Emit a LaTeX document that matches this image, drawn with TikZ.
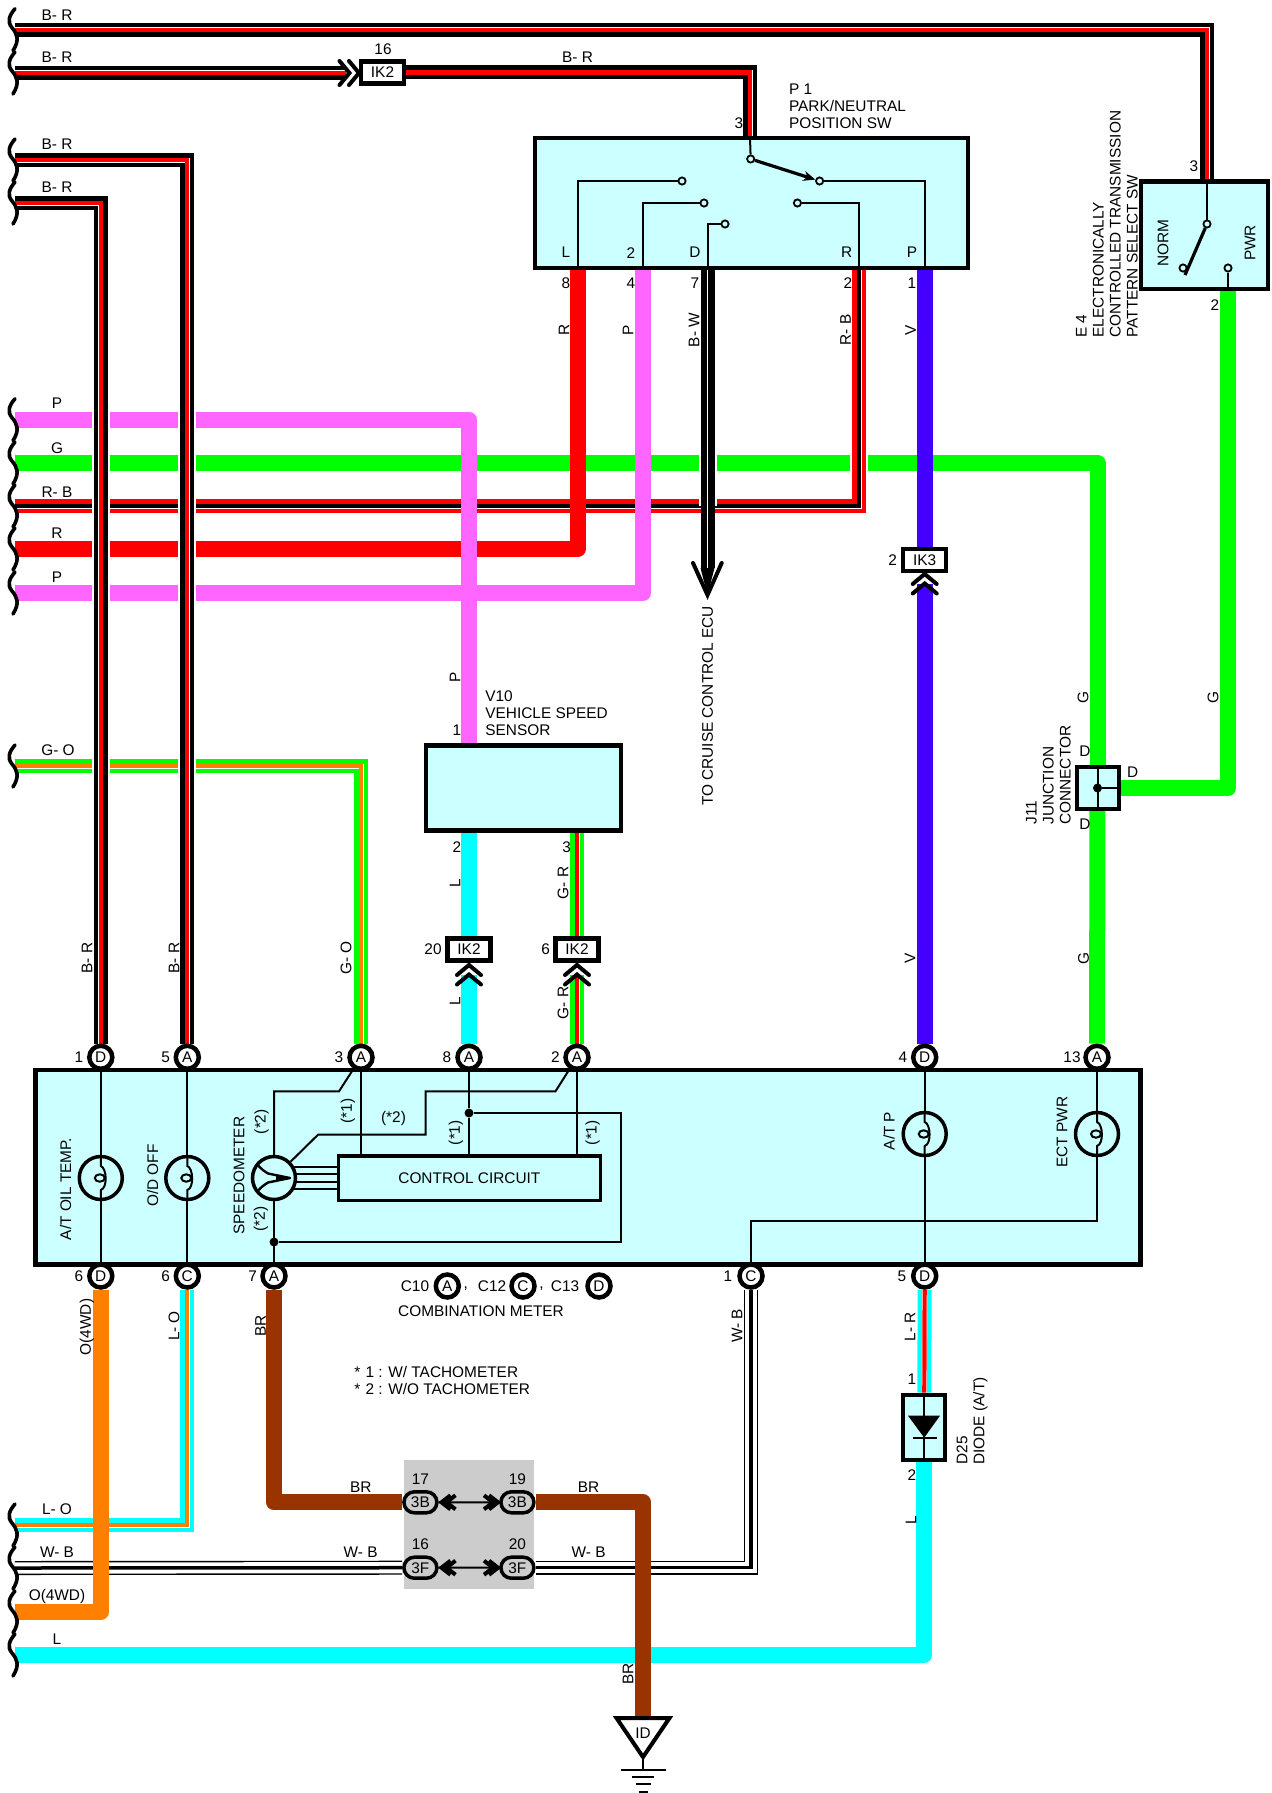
\documentclass[tikz,border=0pt]{standalone}
\usepackage{fontspec}
\setmainfont{Liberation Sans}
\usetikzlibrary{arrows.meta,backgrounds,shapes.misc}
\definecolor{boxcyan}{HTML}{CCFFFF}
\definecolor{wirecyan}{HTML}{00FFFF}
\definecolor{wirepink}{HTML}{FF66FF}
\definecolor{wiregreen}{HTML}{00FF00}
\definecolor{wireviolet}{HTML}{4400FF}
\definecolor{wireorange}{HTML}{FF8000}
\definecolor{wirebrown}{HTML}{993300}
\definecolor{blockgray}{HTML}{CCCCCC}
\tikzset{
    lbl/.style = {font = \fontsize{7.7}{8.5}\selectfont, inner sep = 0pt},
    rlbl/.style = {lbl, rotate = 90},
    solidwire/.style = {draw = #1, line width = 8pt, line join = round},
    stripewire/.style 2 args = {draw = #1, line width = 7pt, line join = miter,
        postaction = {draw = white, line width = 2.5pt},
        postaction = {draw = #2, line width = 2.1pt}},
    halo/.style = {draw = white, line width = 9pt},
    unitbox/.style = {draw, fill = boxcyan, line width = 2.25pt, inner sep = 0pt},
    ikbox/.style = {lbl, draw, fill = white, line width = 2.25pt, minimum width = 21.5pt, minimum height = 11pt},
    pincircle/.style = {lbl, draw, circle, fill = white, line width = 2.25pt, minimum size = 11.5pt},
    ovalpin/.style = {lbl, draw, rounded rectangle, fill = blockgray, line width = 1.75pt, minimum width = 16.5pt, minimum height = 10.5pt},
    lampring/.style = {draw, circle, line width = 1.75pt, minimum size = 21.5pt, inner sep = 0pt},
    contact/.style = {draw, circle, fill = boxcyan, line width = 0.9pt, minimum size = 3.6pt, inner sep = 0pt},
    dotnode/.style = {circle, fill = black, minimum size = 4.5pt, inner sep = 0pt},
    innerline/.style = {line width = 1pt},
    armline/.style = {line width = 1.6pt},
    filament/.pic = {
        \draw[innerline] (0, -21) -- (0, -12) .. controls (6, -10) and (7, 10) .. (0, 12) -- (0, 21);
        \draw[innerline] (-1, 0) ellipse [x radius = 5, y radius = 3.7];
    },
    pointer/.pic = {
        \draw[line width = 1.2pt, line join = round] (-17, -14) .. controls (-13, -9) and (-10, -7) .. (-6, -4.5) -- (16, 0) -- (-6, 4.5) .. controls (-10, 7) and (-13, 9) .. (-17, 14);
        \fill (16, 0) -- (2, -3) -- (2, 3) -- cycle;
    },
    chevron/.pic = {
        \draw[line width = 2pt, line cap = round, line join = miter] (-12, 10) -- (0, 0) -- (12, 10);
        \draw[line width = 2pt, line cap = round, line join = miter] (-12, 19.5) -- (0, 9.5) -- (12, 19.5);
    },
    tightchevron/.pic = {
        \draw[line width = 2pt, line join = miter] (-7, 9) -- (0, 0) -- (7, 9);
        \draw[line width = 2pt, line join = miter] (-7, 14) -- (0, 5) -- (7, 14);
    },
    wave/.pic = {
        \draw[line width = 1.8pt, line cap = round] (15, -21) .. controls (9, -14) and (7, -8) .. (12, -2) .. controls (17, 4) and (20, 10) .. (13, 21);
    }
}
\begin{document}
\begin{tikzpicture}[x = 0.5pt, y = -0.5pt]
    \useasboundingbox (0, 0) rectangle (1271, 1793);

    \foreach \n/\y in {brone/29.7, brtwo/73, brthree/160, brfour/203, pinkone/419.7, gmain/463, rbmain/506, rmain/549, pinktwo/593, gomain/766, lomain/1525, wbmain/1568, omain/1612, lmain/1655} {
        \coordinate (\n) at (15, \y);
    }

    % boxes
    \node[unitbox, minimum width = 216.5pt, minimum height = 65pt] (parksw) at (751.5, 203) {};
    \node[unitbox, minimum width = 63.5pt, minimum height = 53.75pt] (selectsw) at (1204.5, 235) {};
    \node[unitbox, minimum width = 97.5pt, minimum height = 42.5pt] (speedsensor) at (523.5, 788) {};
    \node[unitbox, minimum width = 552.6pt, minimum height = 97.3pt] (meter) at (588, 1167.3) {};
    \node[unitbox, lbl, line width = 1.75pt, minimum width = 131pt, minimum height = 22.3pt] (control) at (469.4, 1178.3) {CONTROL CIRCUIT};
    \node[unitbox, line width = 2pt, minimum width = 21pt, minimum height = 21.2pt] (junction) at (1097.5, 788) {};
    \node[unitbox, line width = 2pt, minimum width = 21.2pt, minimum height = 32.5pt] (diode) at (924.2, 1427) {};
    \node[fill = blockgray, minimum width = 65pt, minimum height = 64.5pt, inner sep = 0pt] (grayblock) at (469, 1524.5) {};

    % connectors
    \node[ikbox] (ikone) at (382.5, 72.5) {IK2};
    \node[ikbox] (iktwo) at (469, 949.5) {IK2};
    \node[ikbox] (ikthree) at (577, 949.5) {IK2};
    \node[ikbox] (ikfour) at (924.7, 560) {IK3};
    \node[pincircle] (pinoned) at (100.8, 1057.3) {D};
    \node[pincircle] (pinfivea) at (187.3, 1057.3) {A};
    \node[pincircle] (pinthreea) at (361, 1057.3) {A};
    \node[pincircle] (pineighta) at (469, 1057.3) {A};
    \node[pincircle] (pintwoa) at (577, 1057.3) {A};
    \node[pincircle] (pinfourd) at (924.7, 1057.3) {D};
    \node[pincircle] (pinthirteena) at (1097, 1057.3) {A};
    \node[pincircle] (pinsixd) at (100.8, 1276) {D};
    \node[pincircle] (pinsixc) at (187.3, 1276) {C};
    \node[pincircle] (pinsevena) at (274, 1276) {A};
    \node[pincircle] (pinonec) at (751, 1276) {C};
    \node[pincircle] (pinfived) at (924.7, 1276) {D};
    \node[pincircle] (keya) at (447.3, 1286) {A};
    \node[pincircle] (keyc) at (523, 1286) {C};
    \node[pincircle] (keyd) at (599, 1286) {D};
    \node[ovalpin] (ovalbl) at (420.4, 1502.3) {3B};
    \node[ovalpin] (ovalbr) at (517.4, 1502.3) {3B};
    \node[ovalpin] (ovalfl) at (420.4, 1567.7) {3F};
    \node[ovalpin] (ovalfr) at (517.4, 1567.7) {3F};

    % wire ends
    \coordinate (parkthree) at (750, 138);
    \coordinate (parkeight) at (577.6, 268);
    \coordinate (parkfour) at (643, 268);
    \coordinate (parkseven) at (707.5, 268);
    \coordinate (parktwo) at (859, 268);
    \coordinate (parkone) at (924.7, 268);
    \coordinate (selectthree) at (1207, 181.5);
    \coordinate (selecttwo) at (1228, 289);
    \coordinate (sensorone) at (469, 747);
    \coordinate (sensortwo) at (469, 830);
    \coordinate (sensorthree) at (577, 830);
    \coordinate (ikoneend) at (346, 73);
    \coordinate (iktwoend) at (469, 975);
    \coordinate (ikthreeend) at (577, 975);
    \coordinate (ikfourend) at (924.7, 584);
    \coordinate (cruisetip) at (707.5, 595);
    \coordinate (cruiseend) at (707.5, 568);
    \coordinate (groundtop) at (643, 1718);

    \begin{scope}[on background layer]
        \draw[solidwire = wiregreen] (gmain) -| (junction);
        \draw[solidwire = wiregreen] (junction) -- (pinthirteena);
        \draw[solidwire = wiregreen] (junction) -| (selecttwo);
        \draw[halo] (rbmain -| parktwo) -- (parktwo);
        \draw[stripewire = {red}{black}] (rbmain) -| (parktwo);
        \draw[solidwire = red] (rmain) -| (parkeight);
        \draw[solidwire = wirepink] (pinktwo) -| (parkfour);
        \draw[solidwire = wirepink] (pinkone) -| (sensorone);
        \draw[halo] (parkseven) -- (rbmain -| parkseven);
        \draw[draw = black, line width = 7pt, postaction = {draw = white, line width = 0.6pt}] (parkseven) -- (cruiseend);
        \fill (cruiseend) ++(-7, 0) -- (cruisetip) -- ++(7, -27) -- cycle;
        \draw[solidwire = wireviolet] (parkone) -- (ikfour);
        \draw[solidwire = wireviolet] (ikfourend) -- (pinfourd);
        \draw[stripewire = {wiregreen}{wireorange}] (gomain) -| (pinthreea);
        \draw[halo] (brfour) -| (pinoned);
        \draw[halo] (brthree) -| (pinfivea);
        \draw[stripewire = {black}{red}] (brone) -| (selectthree);
        \draw[stripewire = {black}{red}] (brtwo) -- (ikoneend);
        \draw[stripewire = {black}{red}] (ikone) -| (parkthree);
        \draw[stripewire = {black}{red}] (brthree) -| (pinfivea);
        \draw[stripewire = {black}{red}] (brfour) -| (pinoned);
        \draw[solidwire = wirecyan] (sensortwo) -- (iktwo);
        \draw[solidwire = wirecyan] (iktwoend) -- (pineighta);
        \draw[stripewire = {wiregreen}{red}] (sensorthree) -- (ikthree);
        \draw[stripewire = {wiregreen}{red}] (ikthreeend) -- (pintwoa);
        \draw[stripewire = {wirecyan}{wireorange}] (lomain) -| (pinsixc);
        \draw[draw = black, line width = 7pt, line join = miter, postaction = {draw = white, line width = 5.6pt}, postaction = {draw = black, line width = 1.75pt}] (wbmain) -- (ovalfl);
        \draw[draw = black, line width = 7pt, line join = miter, postaction = {draw = white, line width = 5.6pt}, postaction = {draw = black, line width = 1.75pt}] (ovalfr) -| (pinonec);
        \draw[solidwire = wirecyan] (lmain) -| (diode);
        \draw[stripewire = {wirecyan}{red}] (pinfived) -- (diode);
        \draw[solidwire = wireorange] (omain) -| (pinsixd);
        \draw[solidwire = wirebrown] (pinsevena) |- (ovalbl);
        \draw[solidwire = wirebrown] (ovalbr) -| (groundtop);
    \end{scope}

    \foreach \y in {29.7, 73, 160, 203, 419.7, 463, 506, 549, 593, 766, 1525, 1568, 1612, 1655} {
        \pic at (0, \y) {wave};
    }
    \pic[rotate = -90] at (359, 73) {chevron};
    \pic at (469, 965) {chevron};
    \pic at (577, 965) {chevron};
    \pic at (924.7, 574) {chevron};
    \draw[innerline] (ovalbl) -- (ovalbr);
    \draw[innerline] (ovalfl) -- (ovalfr);
    \pic[rotate = 90] at (441.5, 1502.3) {tightchevron};
    \pic[rotate = -90] at (498, 1502.3) {tightchevron};
    \pic[rotate = 90] at (441.5, 1567.7) {tightchevron};
    \pic[rotate = -90] at (498, 1567.7) {tightchevron};
    \draw[line width = 2pt, line cap = round, line join = miter] (cruisetip) ++(-14.5, -32) -- (cruisetip) -- ++(14.2, -32);

    % park/neutral switch
    \node[contact] (ringcom) at (750.7, 159) {};
    \node[contact] (ringp) at (819.6, 181) {};
    \node[contact] (ringl) at (682, 181) {};
    \node[contact] (ringtwo) at (704, 203) {};
    \node[contact] (ringd) at (725, 224) {};
    \node[contact] (ringr) at (797.4, 203) {};
    \draw[innerline] (parkthree) -- (ringcom);
    \draw[armline, -{Stealth[length = 6pt, width = 5pt]}] (ringcom) -- (ringp);
    \draw[innerline] (ringp) -| (parkone);
    \draw[innerline] (ringl) -| (parkeight);
    \draw[innerline] (ringtwo) -| (parkfour);
    \draw[innerline] (ringd) -| (parkseven);
    \draw[innerline] (ringr) -| (parktwo);

    % pattern select switch
    \node[contact] (ringnorm) at (1207, 224) {};
    \node[contact] (ringleft) at (1183, 268) {};
    \node[contact] (ringpwr) at (1228, 268) {};
    \coordinate (armend) at (1185, 275);
    \draw[innerline] (selectthree) -- (ringnorm);
    \draw[armline] (ringnorm) -- (armend);
    \draw[innerline] (ringpwr) -- (selecttwo);

    % junction and diode
    \node[dotnode] (junctiondot) at (junction) {};
    \draw[innerline] (junction.north) -- (junction.south);
    \draw[innerline] (junctiondot) -- (junction.east);
    \draw[innerline] (diode.north) -- (diode.south);
    \fill (908, 1415.7) -- (940, 1415.7) -- (924.2, 1437.7) -- cycle;
    \draw[innerline] (912.7, 1437.7) -- (936.7, 1437.7);

    % meter
    \node[lampring] (lampoil) at (100.8, 1178) {};
    \node[lampring] (lampod) at (187.3, 1178) {};
    \node[lampring] (lampspeed) at (274, 1178) {};
    \node[lampring] (lampatp) at (924.7, 1134) {};
    \node[lampring] (lampect) at (1097, 1134) {};
    \foreach \lamp in {lampoil, lampod, lampatp, lampect} {
        \pic at (\lamp) {filament};
    }
    \pic at (lampspeed) {pointer};
    \draw[innerline] (pinoned) -- (lampoil) -- (pinsixd);
    \draw[innerline] (pinfivea) -- (lampod) -- (pinsixc);
    \draw[innerline] (pinfourd) -- (lampatp) -- (pinfived);
    \draw[innerline] (pinthirteena) -- (lampect);
    \coordinate (ectbend) at (751, 1221);
    \draw[innerline] (lampect) |- (ectbend) -- (pinonec);
    \coordinate (cornera) at (339, 1091.3);
    \draw[innerline] (pinthreea) -- (cornera) -| (lampspeed);
    \draw[innerline] (pinthreea) -- (pinthreea |- control.north);
    \coordinate (cornerb) at (555.5, 1091.3);
    \coordinate (cornerc) at (425.7, 1134.7);
    \coordinate (cornerd) at (318, 1134.7);
    \draw[innerline] (pintwoa) -- (cornerb) -| (cornerc) -- (cornerd) -- (lampspeed);
    \draw[innerline] (pintwoa) -- (pintwoa |- control.north);
    \node[dotnode] (dottop) at (469, 1113) {};
    \node[dotnode] (dotbottom) at (274, 1242) {};
    \coordinate (bendright) at (621, 1242);
    \draw[innerline] (pineighta) -- (dottop) -- (dottop |- control.north);
    \draw[innerline] (dottop) -| (bendright) -- (dotbottom);
    \draw[innerline] (lampspeed) -- (pinsevena);
    \foreach \x/\y in {293/1167, 295.5/1174.3, 295.5/1181.7, 293/1189} {
        \draw[innerline] (\x, \y) -- (control.west |- \x, \y);
    }

    % ground
    \draw[line width = 2pt, line join = miter, fill = white] (616.5, 1718) -- (669.5, 1718) -- (643, 1757) -- cycle;
    \node[lbl] (groundid) at (643, 1733) {ID};
    \coordinate (groundbar) at (643, 1770);
    \draw[innerline] (643, 1757) -- (groundbar);
    \foreach \y/\w in {1770/22.5, 1776.7/11, 1784/7.5, 1792/4.5} {
        \draw[line width = 1.2pt] (643 - \w, \y) -- (643 + \w, \y);
    }

    % texts
    \foreach \x/\y/\t [count = \n] in {57/15/{B- R}, 57/57/{B- R}, 577.6/57/{B- R}, 383/49/16, 57/144/{B- R}, 57/187.7/{B- R}, 57/403/P, 57/447.7/G, 57/491.7/{R- B}, 57/533/R, 57/577/P, 58/750/{G- O}, 739/122.7/3, 566/252.7/L, 631/252.7/2, 695/252.7/D, 846.6/252.7/R, 912/252.7/P, 566/282.7/8, 631/282.7/4, 695/282.7/7, 848/282.7/2, 912/282.7/1, 1194/166/3, 1215/305/2, 892.7/560/2, 457/730/1, 457/846.7/2, 566.7/846.7/3, 433/949/20, 545.7/949/6, 1085/750.7/D, 1132.7/772/D, 1085/824/D, 79/1057/1, 165.7/1057/5, 338.8/1057/3, 447/1057/8, 555.5/1057/2, 903/1057/4, 1072/1057/13, 79/1276/6, 165.7/1276/6, 252.6/1276/7, 728/1276/1, 902/1276/5, 912/1379/1, 912/1475/2, 393.5/1119/(*2), 415/1285.7/C10, 465.7/1289/{,}, 492/1285.7/C12, 541.6/1289/{,}, 565/1285.7/C13, 481/1310.7/{COMBINATION METER}, 360.7/1487/BR, 588.6/1487/BR, 360.7/1552/{W- B}, 588.6/1552/{W- B}, 420.4/1479/17, 517.4/1479/19, 420.4/1544/16, 517.4/1544/20, 57/1509.3/{L- O}, 57/1552/{W- B}, 57/1596/O(4WD), 57/1639/L} {
        \node[lbl] (hlabel\n) at (\x, \y) {\t};
    }
    \foreach \x/\y/\t [count = \n] in {564/330/R, 628/330/P, 694/330/{B- W}, 845.6/330/{R- B}, 910.5/330/V, 1083/698/G, 1213/698/G, 455/677/P, 455/883/L, 563/883/{G- R}, 455/1001.7/L, 563/1003/{G- R}, 87/958/{B- R}, 174/958/{B- R}, 346/958/{G- O}, 910/958/V, 1083.6/958/G, 347.8/1111/(*1), 456/1132.7/(*1), 592.6/1132.7/(*1), 261.6/1121.7/(*2), 261/1219/(*2), 239/1175.7/SPEEDOMETER, 65.7/1189/{A/T OIL TEMP.}, 152.7/1175.7/{O/D OFF}, 889/1131/{A/T P}, 1062/1132/{ECT PWR}, 87/1327/O(4WD), 174/1326/{L- O}, 260.6/1326/BR, 737/1326/{W- B}, 910/1326.7/{L- R}, 911/1520/L, 628/1674/BR, 707.6/706/{TO CRUISE CONTROL ECU}, 1163/243/NORM, 1250/243/PWR} {
        \node[rlbl] (vlabel\n) at (\x, \y) {\t};
    }
    \node[lbl, anchor = west, align = left] (parktext) at (788.6, 106) {P 1\\PARK/NEUTRAL\\POSITION SW};
    \node[lbl, anchor = west, align = left] (sensortext) at (485, 713) {V10\\VEHICLE SPEED\\SENSOR};
    \node[lbl, anchor = west, align = left] (notetext) at (354, 1380) {*\,\,1 : W/ TACHOMETER\\*\,\,2 : W/O TACHOMETER};
    \node[rlbl, anchor = west, align = left] (selecttext) at (1107, 338) {E 4\\ELECTRONICALLY\\CONTROLLED TRANSMISSION\\PATTERN SELECT SW};
    \node[rlbl, anchor = west, align = left] (junctiontext) at (1048.5, 825) {J11\\JUNCTION\\CONNECTOR};
    \node[rlbl, anchor = west, align = left] (diodetext) at (972, 1465) {D25\\DIODE (A/T)};
\end{tikzpicture}
\end{document}
